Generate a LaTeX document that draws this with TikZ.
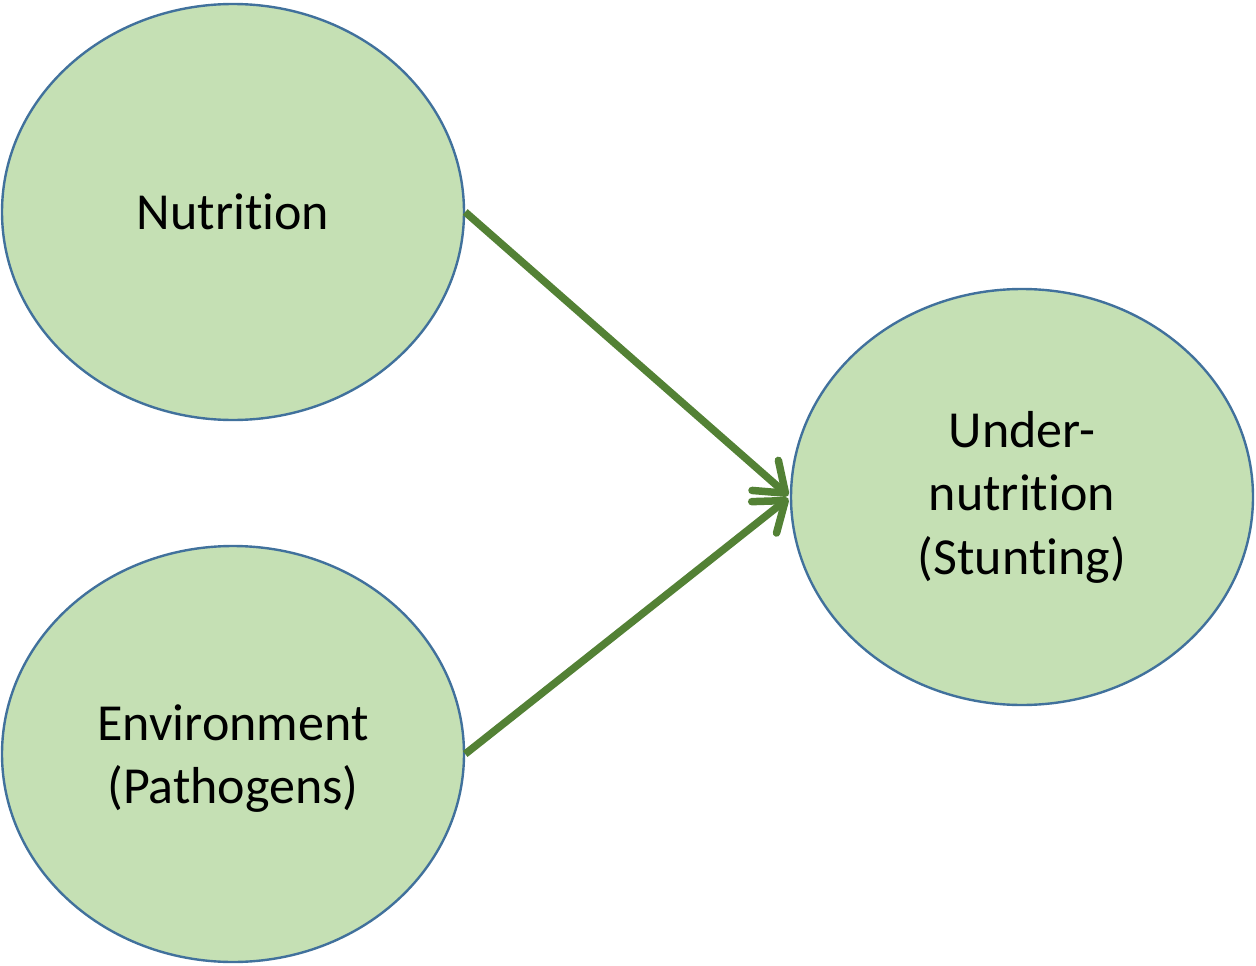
\documentclass[tikz,border=0pt]{standalone}
\usepackage{fontspec}
\setmainfont[Ligatures={NoCommon,NoRare,NoDiscretionary,NoContextual}]{Carlito}
\usetikzlibrary{shapes.geometric,arrows.meta}
\definecolor{fillgreen}{HTML}{C5E0B4}
\definecolor{edgeblue}{HTML}{41719C}
\definecolor{arrowgreen}{HTML}{538135}
\tikzset{
  bubble/.style={ellipse, draw=edgeblue, line width=2.4pt, fill=fillgreen,
    minimum width=462pt, minimum height=416pt, inner sep=0pt, align=center,
    font=\fontsize{52}{63.5}\selectfont},
  link/.style={draw=arrowgreen, line width=7.5pt, shorten >=2pt,
    -{Straight Barb[length=27pt, width=40pt, round]}}
}
\begin{document}
\begin{tikzpicture}[x=1pt,y=-1pt]
\useasboundingbox (0,0) rectangle (1256,966);
\node[bubble] (nut) at (233,212) {Nutrition};
\node[bubble] (env) at (233,754) {\strut Environment\\(Pathogens)};
\node[bubble] (und) at (1022,497) {Under-\\nutrition\\(Stunting)};
\draw[link] (nut.east) -- (und.west);
\draw[link] (env.east) -- (und.west);
\end{tikzpicture}
\end{document}
